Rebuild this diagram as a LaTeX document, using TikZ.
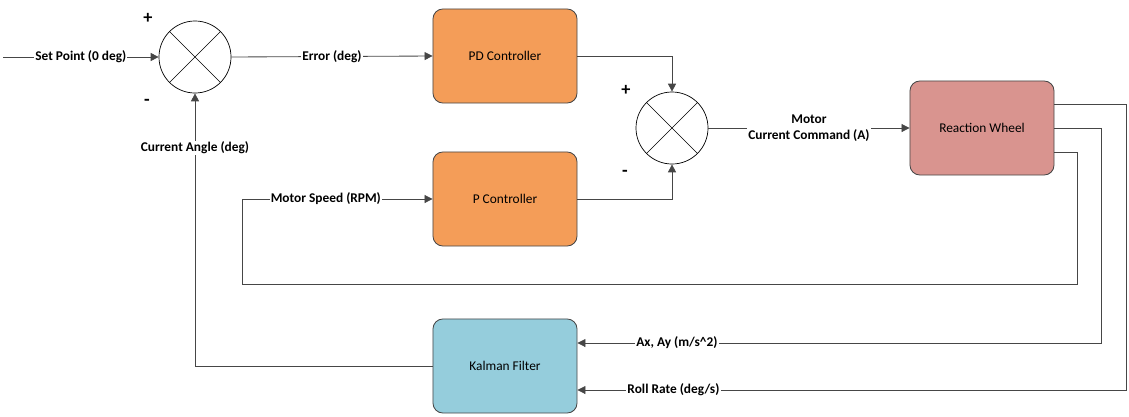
\documentclass[tikz,border=0pt]{standalone}
\usepackage{fontspec}
\setmainfont{Carlito}
\usetikzlibrary{arrows.meta,positioning}
\definecolor{ctrlorange}{RGB}{244,157,88}
\definecolor{wheelred}{RGB}{217,148,143}
\definecolor{filterblue}{RGB}{149,205,220}
\definecolor{wire}{RGB}{70,70,70}
\tikzset{
  block/.style={draw=wire,line width=0.6pt,rounded corners=7pt,minimum width=3.6cm,minimum height=2.35cm,align=center,font=\fontsize{9.5}{11.4}\selectfont},
  ctrl/.style={block,fill=ctrlorange},
  plant/.style={block,fill=wheelred},
  filt/.style={block,fill=filterblue},
  sumnode/.style={circle,draw=black,line width=0.5pt,minimum size=1.8cm,inner sep=0pt,fill=white,
    path picture={\draw[line width=0.4pt] (path picture bounding box.south west)--(path picture bounding box.north east)
      (path picture bounding box.north west)--(path picture bounding box.south east);}},
  sign/.style={font=\fontsize{13}{15}\selectfont\bfseries},
  sig/.style={draw=wire,line width=0.6pt},
  arr/.style={sig,-{Triangle[length=2mm,width=2mm]}},
  lbl/.style={fill=white,inner sep=0.8pt,font=\fontsize{9.5}{11.4}\selectfont\bfseries,align=center}
}

\begin{document}
\begin{tikzpicture}[x=0.025cm,y=-0.025cm]
  \useasboundingbox (0,0) rectangle (1129,416);

  % summing junctions
  \node[sumnode] (s1) at (195,57) {};
  \node[sumnode] (s2) at (672,128) {};
  \node[sign] (s1plus) at (148,18) {+};
  \node[sign] (s1minus) at (147,102) {-};
  \node[sign] (s2plus) at (626,90) {+};
  \node[sign] (s2minus) at (625,173) {-};

  % blocks
  \node[ctrl] (pd) at (505,56) {PD Controller};
  \node[ctrl] (pc) at (505,199) {P Controller};
  \node[plant] (rw) at (982,128) {Reaction Wheel};
  \node[filt] (kf) at (505,366) {Kalman Filter};

  % corners of the feedback wires
  \coordinate (sp) at (3,57);
  \coordinate (rollpt) at (1126,390);
  \coordinate (accpt) at (1101,343);
  \coordinate (spdpt) at (1077,284);
  \coordinate (spdcorner) at (242,284);

  % forward path
  \draw[arr] (sp) -- node[lbl]{Set Point (0 deg)} (s1.west);
  \draw[arr] (s1.east) -- node[lbl]{Error (deg)} (pd.west);
  \draw[arr] (pd.east) -| (s2.north);
  \draw[arr] (pc.east) -| (s2.south);
  \draw[arr] (s2.east) -- node[lbl]{Motor\\Current Command (A)} (rw.west);

  % feedback
  \draw[arr] ([yshift=0.6cm]rw.east) -| (rollpt) -- node[lbl,pos=0.825]{Roll Rate (deg/s)} (kf.east |- rollpt);
  \draw[arr] (rw.east) -| (accpt) -- node[lbl,pos=0.81]{Ax, Ay (m/s\textasciicircum 2)} (kf.east |- accpt);
  \draw[arr] ([yshift=-0.6cm]rw.east) -| (spdpt) -- (spdcorner) |- node[lbl,pos=0.72]{Motor Speed (RPM)} (pc.west);
  \draw[arr] (kf.west) -| node[lbl,pos=0.9]{Current Angle (deg)} (s1.south);
\end{tikzpicture}
\end{document}
